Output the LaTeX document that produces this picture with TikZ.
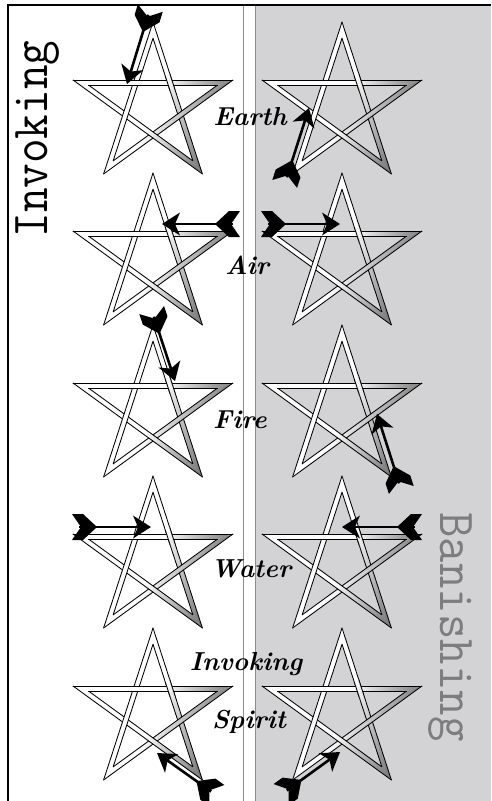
\documentclass[tikz,border=0pt]{standalone}
\usepackage{fontspec}
\usetikzlibrary{decorations.markings}
\definecolor{panelgray}{RGB}{211,211,213}
\definecolor{textgray}{RGB}{125,125,125}
\definecolor{divgray}{RGB}{140,140,140}
\tikzset{
  bandedge/.style={draw=black, line width=0.85pt, line cap=round},
  shaftline/.style={draw=black, line width=2.6pt, shorten >=8pt, shorten <=6pt},
  arrowmarks/.style={decoration={markings,
      mark=at position 0 with {\fill[black] (24,0) -- (10,13) -- (-1,13) -- (8,0) -- (-1,-13) -- (10,-13) -- cycle;},
      mark=at position 1 with {\fill[black] (0,0) -- (-18,11.5) -- (-13,0) -- (-18,-11.5) -- cycle;}},
    decorate},
  elemlabel/.style={font=\fontsize{26}{26}\selectfont\bfseries\itshape, inner sep=0pt, anchor=base},
  sidelabel/.style={font=\ttfamily\fontsize{52}{52}\selectfont, inner sep=0pt, anchor=base},
}
\newcommand{\starband}[2]{%
  \begin{scope}
    \clip (P#1) -- (P#2) -- (Q#2) -- (Q#1) -- cycle;
    \shade[top color=black!68, bottom color=white, middle color=white, shading angle=-112] (-85,-85) rectangle (85,85);
  \end{scope}
  \draw[bandedge] (P#1) -- (P#2);
  \draw[bandedge] (Q#1) -- (Q#2);
}
\newcommand{\pentastar}[2]{%
  \begin{scope}[shift={(#1,#2)}]
    \foreach \k in {0,...,4}{%
      \coordinate (P\k) at ({84*sin(72*\k)},{-84*cos(72*\k)});
      \coordinate (Q\k) at ({67.8*sin(72*\k)},{-67.8*cos(72*\k)});
    }
    \starband{0}{2}\starband{1}{3}\starband{2}{4}\starband{3}{0}\starband{4}{1}
    \begin{scope}
      \clip (17.1,-23.5) circle (9);
      \starband{0}{2}
    \end{scope}
  \end{scope}}
\newcommand{\dirarrow}[2]{%
  \draw[shaftline] (#1) -- (#2);
  \path[arrowmarks] (#1) -- (#2);
}
\begin{document}
\begin{tikzpicture}[x=1pt,y=-1pt]
\useasboundingbox (0,0) rectangle (491,801);
\fill[white] (0,0) rectangle (491,801);
\fill[panelgray] (255,6) rectangle (491,801);
\draw[divgray, line width=0.6pt] (255.3,6) -- (255.3,801);
\draw[divgray, line width=1.3pt] (243.5,6) -- (243.5,801);
\draw[black, line width=2pt] (8,801) -- (8,5) -- (491,5);

\foreach \cx/\cy in {153/106, 342/106, 153/257, 342/257, 153/409, 342/409, 153/560, 342/560, 153/712, 342/712}{%
  \pentastar{\cx}{\cy}
}

% direction arrows
\coordinate (ea1) at (150,9);   \coordinate (eb1) at (127,84);
\coordinate (ea2) at (285,183); \coordinate (eb2) at (309,108);
\coordinate (aa1) at (239,224); \coordinate (ab1) at (162,224);
\coordinate (aa2) at (262,224); \coordinate (ab2) at (340,224);
\coordinate (fa1) at (152,311); \coordinate (fb1) at (175,381);
\coordinate (fa2) at (401,489); \coordinate (fb2) at (377,414);
\coordinate (wa1) at (73,527);  \coordinate (wb1) at (151,527);
\coordinate (wa2) at (421,527); \coordinate (wb2) at (342,527);
\coordinate (sa1) at (216,795); \coordinate (sb1) at (157,753);
\coordinate (sa2) at (282,794); \coordinate (sb2) at (340,752);
\dirarrow{ea1}{eb1}
\dirarrow{ea2}{eb2}
\dirarrow{aa1}{ab1}
\dirarrow{aa2}{ab2}
\dirarrow{fa1}{fb1}
\dirarrow{fa2}{fb2}
\dirarrow{wa1}{wb1}
\dirarrow{wa2}{wb2}
\dirarrow{sa1}{sb1}
\dirarrow{sa2}{sb2}

% labels
\node[elemlabel] (earth) at (250,125) {Earth};
\node[elemlabel] (air) at (247,274) {Air};
\node[elemlabel] (fire) at (240,428) {Fire};
\node[elemlabel] (water) at (251,577) {Water};
\node[elemlabel] (invk) at (246,670) {Invoking};
\node[elemlabel] (spirit) at (249,728) {Spirit};

\node[sidelabel, rotate=90] (invlabel) at (47,139) {\scalebox{0.92}[1]{Invoking}};
\node[sidelabel, rotate=-90, text=textgray] (banlabel) at (440,627) {\scalebox{0.95}[1]{Banishing}};
\end{tikzpicture}
\end{document}
